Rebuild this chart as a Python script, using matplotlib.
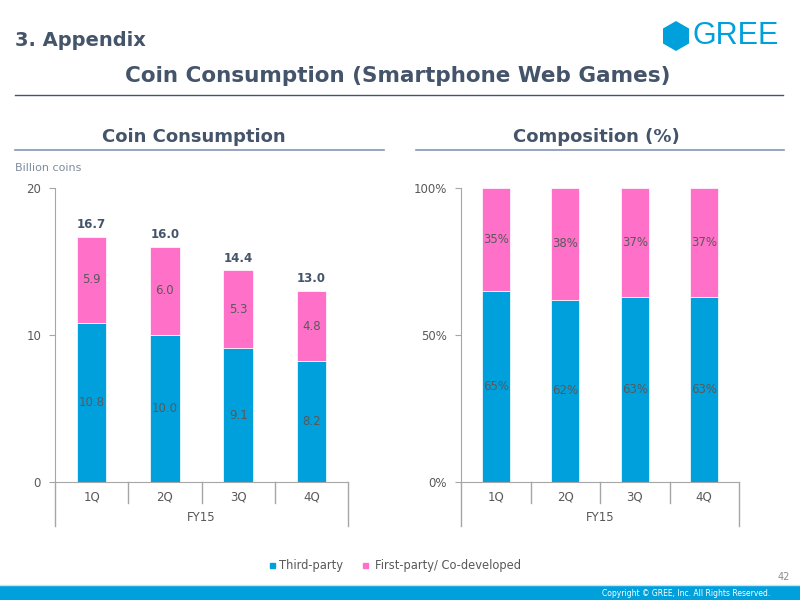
import matplotlib.pyplot as plt
from matplotlib.patches import RegularPolygon, Rectangle
from matplotlib.lines import Line2D

# datos
quarters = ['1Q', '2Q', '3Q', '4Q']
year_label = 'FY15'
third_party = [10.8, 10.0, 9.1, 8.2]
first_party = [5.9, 6.0, 5.3, 4.8]
totals = [16.7, 16.0, 14.4, 13.0]
third_pct = [65, 62, 63, 63]
first_pct = [35, 38, 37, 37]
series_names = ['Third-party', 'First-party/ Co-developed']

blue = '#00A0DC'
pink = '#FF70C8'
dark = '#44546A'
txt = '#595959'
axis_col = '#A6A6A6'

plt.rcParams['font.family'] = 'DejaVu Sans'
fig = plt.figure(figsize=(8, 6), dpi=100)

# encabezado
fig.text(15/800, 1-40/600, '3. Appendix', fontsize=14, fontweight='bold', color=dark, va='center')
fig.text(398/800, 1-76/600, 'Coin Consumption (Smartphone Web Games)', fontsize=15.5,
         fontweight='bold', color=dark, ha='center', va='center')
fig.add_artist(Line2D([15/800, 783/800], [1-95/600, 1-95/600], color=dark, lw=1))

# logo
fig.add_artist(RegularPolygon((676/100, (600-36)/100), 6, radius=0.15, orientation=0,
                              facecolor=blue, edgecolor='none', transform=fig.dpi_scale_trans))
fig.text(692/800, 1-36/600, 'GREE', fontsize=22, family='Liberation Sans', color=blue,
         va='center', ha='left')

# subtitulos
fig.text(194/800, 1-137/600, 'Coin Consumption', fontsize=13, fontweight='bold', color=dark,
         ha='center', va='center')
fig.add_artist(Line2D([15/800, 384/800], [1-150/600, 1-150/600], color='#8496B0', lw=1.2))
fig.text(596/800, 1-137/600, 'Composition (%)', fontsize=13, fontweight='bold', color=dark,
         ha='center', va='center')
fig.add_artist(Line2D([416/800, 784/800], [1-150/600, 1-150/600], color='#8496B0', lw=1.2))
fig.text(15/800, 1-168/600, 'Billion coins', fontsize=8, color='#7F8C9D', va='center')

x = range(len(quarters))


def style_axes(ax):
    for s in ['top', 'right']:
        ax.spines[s].set_visible(False)
    ax.spines['left'].set_color(axis_col)
    ax.spines['bottom'].set_color(axis_col)
    ax.set_xlim(-0.5, 3.5)
    ax.set_xticks(list(x))
    ax.set_xticklabels(quarters)
    ax.tick_params(axis='x', length=0, pad=6, labelsize=8.5, labelcolor=txt)
    ax.tick_params(axis='y', length=4, color=axis_col, labelsize=8.5, labelcolor=txt, pad=6)
    tr = ax.get_xaxis_transform()
    for i in range(len(quarters) + 1):
        xd = i - 0.5
        low = -0.148 if i in (0, len(quarters)) else -0.072
        ax.plot([xd, xd], [0, low], color=axis_col, lw=1, transform=tr, clip_on=False)
    ax.text(1.5, -0.122, year_label, transform=tr, ha='center', va='center', fontsize=8.5, color=txt)


# grafico izquierdo
ax1 = fig.add_axes([55/800, 1-482/600, 293/800, 294/600])
ax1.bar(x, third_party, width=0.4, color=blue, edgecolor='white', linewidth=0.5)
ax1.bar(x, first_party, width=0.4, bottom=third_party, color=pink, edgecolor='white', linewidth=0.5)
ax1.set_ylim(0, 20)
ax1.set_yticks([0, 10, 20])
style_axes(ax1)
for i in x:
    ax1.text(i, third_party[i] / 2, f'{third_party[i]:.1f}', ha='center', va='center', fontsize=8.5, color=txt)
    ax1.text(i, third_party[i] + first_party[i] / 2, f'{first_party[i]:.1f}', ha='center', va='center',
             fontsize=8.5, color=txt)
    ax1.annotate(f'{totals[i]:.1f}', (i, totals[i]), xytext=(0, 4), textcoords='offset points',
                 ha='center', va='bottom', fontsize=8.5, fontweight='bold', color=dark)

# grafico derecho
ax2 = fig.add_axes([461/800, 1-482/600, 278/800, 294/600])
ax2.bar(x, third_pct, width=0.4, color=blue, edgecolor='white', linewidth=0.5)
ax2.bar(x, first_pct, width=0.4, bottom=third_pct, color=pink, edgecolor='white', linewidth=0.5)
ax2.set_ylim(0, 100)
ax2.set_yticks([0, 50, 100])
ax2.set_yticklabels(['0%', '50%', '100%'])
style_axes(ax2)
for i in x:
    ax2.text(i, third_pct[i] / 2, f'{third_pct[i]}%', ha='center', va='center', fontsize=8.5, color=txt)
    ax2.text(i, third_pct[i] + first_pct[i] / 2, f'{first_pct[i]}%', ha='center', va='center',
             fontsize=8.5, color=txt)

# leyenda
fig.add_artist(Rectangle((270/800, 1-568/600), 5/800, 5/600, color=blue, transform=fig.transFigure))
fig.text(279/800, 1-565/600, series_names[0], fontsize=8.3, color=txt, va='center')
fig.add_artist(Rectangle((363/800, 1-568/600), 5/800, 5/600, color=pink, transform=fig.transFigure))
fig.text(375/800, 1-565/600, series_names[1], fontsize=8.3, color=txt, va='center')

# pie
fig.text(790/800, 1-577/600, '42', fontsize=7, color='#8C8C8C', ha='right', va='center')
fig.add_artist(Rectangle((0, 0), 1, 14/600, color=blue, transform=fig.transFigure))
fig.add_artist(Line2D([0, 1], [15/600, 15/600], color='#BFE6F5', lw=1))
fig.text(770/800, 1-593/600, 'Copyright \u00a9 GREE, Inc. All Rights Reserved.', fontsize=5.5,
         color='white', ha='right', va='center')

plt.savefig('out.png', dpi=100)
